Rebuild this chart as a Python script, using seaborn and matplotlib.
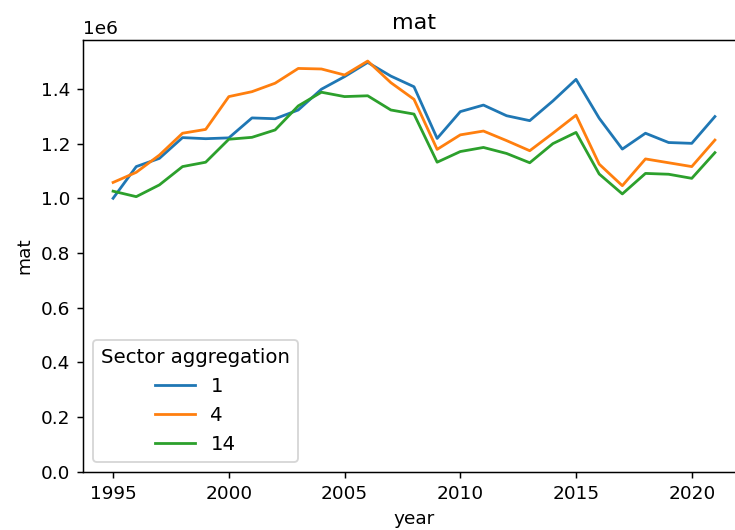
import matplotlib
matplotlib.use("Agg")
import matplotlib.pyplot as plt
import seaborn as sns
import pandas as pd

# Values (units of 1e6)
years = list(range(1995, 2022))
agg_1 = [1.000, 1.116, 1.146, 1.222, 1.218, 1.221, 1.294, 1.291, 1.323, 1.399,
         1.445, 1.497, 1.447, 1.408, 1.219, 1.317, 1.341, 1.302, 1.284, 1.356,
         1.435, 1.293, 1.180, 1.238, 1.204, 1.201, 1.299]
agg_4 = [1.058, 1.095, 1.158, 1.238, 1.252, 1.372, 1.390, 1.421, 1.475, 1.473,
         1.451, 1.502, 1.423, 1.362, 1.179, 1.232, 1.246, 1.211, 1.174, 1.238,
         1.304, 1.125, 1.046, 1.144, 1.130, 1.116, 1.213]
agg_14 = [1.026, 1.006, 1.049, 1.116, 1.132, 1.216, 1.223, 1.250, 1.338, 1.388,
          1.372, 1.375, 1.323, 1.308, 1.132, 1.171, 1.186, 1.164, 1.130, 1.200,
          1.241, 1.089, 1.016, 1.091, 1.088, 1.073, 1.167]
levels = ["1", "4", "14"]

frames = []
for lvl, vals in zip(levels, [agg_1, agg_4, agg_14]):
    frames.append(pd.DataFrame({"year": years,
                                "mat": [v * 1e6 for v in vals],
                                "Sector aggregation": lvl}))
df = pd.concat(frames, ignore_index=True)

DPI = 400 / 3
fig = plt.figure(figsize=(735 / DPI, 530 / DPI), dpi=DPI)
# the reference is cropped on the right, so the axes run past the edge
ax = fig.add_axes([83 / 735, 58.3 / 530, 662 / 735, 431.7 / 530])

sns.lineplot(data=df, x="year", y="mat", hue="Sector aggregation",
             hue_order=levels, palette=["#1f77b4", "#ff7f0e", "#2ca02c"], ax=ax)

ax.set_xlim(1993.7, 2022.3)
ax.set_ylim(0, 1.579e6)
ax.set_title("mat")
ax.spines["right"].set_visible(False)
ax.legend(title="Sector aggregation", loc="lower left",
          fontsize=10.7, title_fontsize=10.7)

fig.savefig("out.png", dpi=DPI)
